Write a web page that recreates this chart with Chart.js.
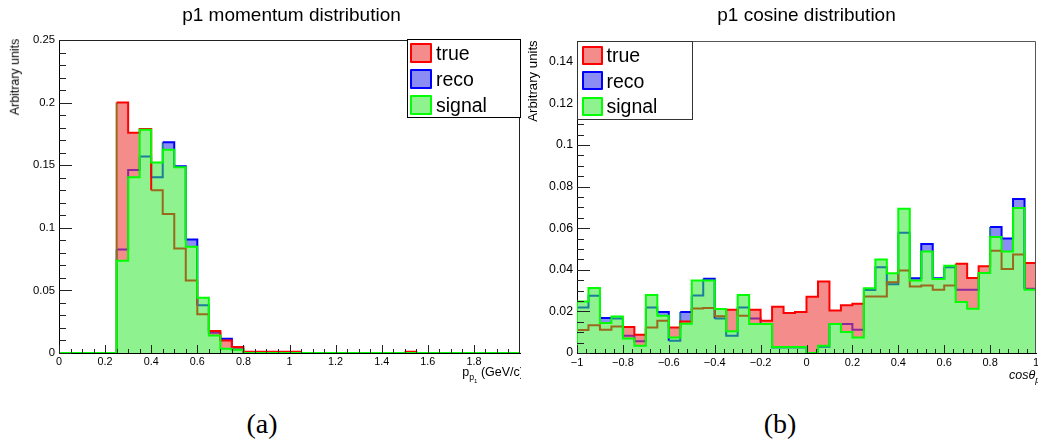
<!DOCTYPE html>
<html><head><meta charset="utf-8">
<script src="https://cdn.jsdelivr.net/npm/chart.js@4/dist/chart.umd.min.js"></script>
<style>
html,body{margin:0;padding:0;background:#fff;}
body{width:1038px;height:445px;position:relative;overflow:hidden;font-family:"Liberation Sans",Arial,Helvetica,sans-serif;color:#000;}
.abs{position:absolute;white-space:nowrap;line-height:1;}
canvas.chart{position:absolute;top:0;}
.legend{position:absolute;border:1px solid #000;background:#fff;box-sizing:border-box;}
.row{position:absolute;display:flex;align-items:center;}
.row span{font-size:19.5px;line-height:20px;}
.sub{font-size:0.7em;position:relative;}
</style>
</head>
<body>
<canvas id="cL" class="chart" width="530" height="395" style="left:0;width:530px;height:395px"></canvas>
<canvas id="cR" class="chart" width="518" height="395" style="left:520px;width:518px;height:395px"></canvas>

<div class="abs" style="left:291.5px;top:5px;font-size:19px;transform:translateX(-50%)">p1 momentum distribution</div>
<div class="abs" style="left:806.5px;top:5px;font-size:19px;transform:translateX(-50%)">p1 cosine distribution</div>

<div class="abs" style="left:15px;top:77px;font-size:12.4px;transform:translate(-50%,-50%) rotate(-90deg)">Arbitrary units</div>
<div class="abs" style="left:533px;top:81px;font-size:13.2px;transform:translate(-50%,-50%) rotate(-90deg)">Arbitrary units</div>

<div class="abs" style="left:430px;top:366px;width:91px;height:28px;overflow:hidden">
  <span style="position:absolute;right:-3px;top:0;font-size:12.5px;line-height:1">p<span class="sub" style="top:4px">p<span class="sub" style="top:3px">1</span></span> (GeV/c)</span>
</div>
<div class="abs" style="left:1009px;top:369px;font-size:12.5px;font-style:italic">cosθ<span class="sub" style="top:4px">p<span class="sub" style="top:3px">1</span></span></div>

<div class="abs" style="left:262px;top:410px;font-size:28px;font-family:'Liberation Serif','DejaVu Serif',serif;transform:translateX(-50%)">(a)</div>
<div class="abs" style="left:780px;top:410px;font-size:28px;font-family:'Liberation Serif','DejaVu Serif',serif;transform:translateX(-50%)">(b)</div>

<div id="legL" class="legend" style="left:407px;top:39px;width:114px;height:79px"></div>
<div id="legR" class="legend" style="left:577px;top:41px;width:116px;height:79px;border-color:#333"></div>

<script>
// ---------------- data ----------------
const seriesNames = ["true", "reco", "signal"];

// momentum histogram: lower bin edges (GeV/c), upper edge of last bin
const momBins = [0,0.05,0.1,0.15,0.2,0.25,0.3,0.35,0.4,0.45,0.5,0.55,0.6,0.65,0.7,0.75,0.8,0.85,0.9,0.95,
                 1,1.05,1.1,1.15,1.2,1.25,1.3,1.35,1.4,1.45,1.5,1.55,1.6,1.65,1.7,1.75,1.8,1.85,1.9,1.95];
const momUpper = 2;
const momTrue   = [0,0,0,0,0, 0.200,0.176,0.179,0.130,0.111, 0.0835,0.058,0.031,0.0175,0.010,
                   0.0047,0.001,0.001,0.001,0.001, 0.001,0,0,0,0, 0,0,0,0,0, 0.001,0,0,0,0, 0,0,0,0,0];
const momReco   = [0,0,0,0,0, 0.0827,0.1462,0.157,0.1404,0.1684, 0.1492,0.0907,0.0381,0.0162,0.0114,
                   0.003,0,0,0,0, 0,0,0,0,0, 0,0,0,0,0, 0,0,0,0,0, 0,0,0,0,0];
const momSignal = [0,0,0,0,0, 0.0736,0.1404,0.1783,0.1521,0.1623, 0.1484,0.0848,0.0442,0.014,0.0034,
                   0.0026,0,0,0,0, 0,0,0,0,0, 0,0,0,0,0, 0,0,0,0,0, 0,0,0,0,0];
const momXTicks = [0,0.2,0.4,0.6,0.8,1,1.2,1.4,1.6,1.8];
const momYTicks = [0,0.05,0.1,0.15,0.2,0.25];

// cosine histogram
const cosBins = [-1,-0.95,-0.9,-0.85,-0.8,-0.75,-0.7,-0.65,-0.6,-0.55,-0.5,-0.45,-0.4,-0.35,-0.3,-0.25,-0.2,-0.15,-0.1,-0.05,
                 0,0.05,0.1,0.15,0.2,0.25,0.3,0.35,0.4,0.45,0.5,0.55,0.6,0.65,0.7,0.75,0.8,0.85,0.9,0.95];
const cosUpper = 1;
const cosTrue   = [0.0110,0.0134,0.0112,0.0128,0.0125,0.0088,0.0123,0.0155,0.0123,0.0152,
                   0.0214,0.0216,0.0177,0.0208,0.0179,0.0208,0.0155,0.0222,0.0192,0.0197,
                   0.0270,0.0344,0.0204,0.0229,0.0237,0.0272,0.0272,0.0340,0.0397,0.0320,
                   0.0325,0.0304,0.0325,0.0429,0.0360,0.0417,0.0492,0.0404,0.0473,0.0433];
const cosReco   = [0.0219,0.0275,0.0168,0.0166,0.0083,0.0056,0.0219,0.0197,0.0059,0.0197,
                   0.0277,0.0357,0.0166,0.0083,0.0219,0.0166,0.0139,0.0027,0.0027,0.0027,
                   0.0000,0.0030,0.0139,0.0139,0.0112,0.0303,0.0412,0.0330,0.0578,0.0359,
                   0.0524,0.0359,0.0412,0.0304,0.0304,0.0385,0.0606,0.0550,0.0740,0.0309];
const cosSignal = [0.0247,0.0312,0.0144,0.0176,0.0070,0.0035,0.0279,0.0179,0.0074,0.0141,
                   0.0349,0.0348,0.0211,0.0104,0.0279,0.0139,0.0139,0.0029,0.0029,0.0029,
                   0.0000,0.0035,0.0139,0.0101,0.0075,0.0311,0.0449,0.0383,0.0694,0.0349,
                   0.0488,0.0356,0.0420,0.0245,0.0213,0.0385,0.0558,0.0488,0.0697,0.0304];
const cosXTicks = [-1,-0.8,-0.6,-0.4,-0.2,0,0.2,0.4,0.6,0.8,1];
const cosYTicks = [0,0.02,0.04,0.06,0.08,0.1,0.12,0.14];

// ---------------- style ----------------
const LINE = {true: "#ff0000", reco: "#0000ff", signal: "#00ff00"};
const FILL = {true: "#f58c8c", reco: "#8c8cf5", signal: "#8ef28e"};
// colour of a lower outline seen through an upper hatched fill
const SEEN = {redUnderGreen: "#9a6a1c", blueUnderGreen: "#1a7f9a", blueUnderRed: "#8a2a9a"};
const DRAW_ORDER = {true: 2, reco: 3, signal: 1}; // reco drawn first, signal on top

function histPoints(bins, upper, vals) {
  const pts = [{x: bins[0], y: 0}];
  bins.forEach((b, i) => pts.push({x: b, y: vals[i]}));
  pts.push({x: upper, y: vals[vals.length - 1]});
  pts.push({x: upper, y: 0});
  return pts;
}

function fmt(v) {
  const s = String(+Math.abs(v).toFixed(4));
  return v < -1e-9 ? "\u2212" + s : s;
}

const inwardTicks = {
  id: "inwardTicks",
  afterDatasetsDraw(chart, args, o) {
    const {ctx, chartArea: a, scales: {x, y}} = chart;
    ctx.save();
    ctx.lineWidth = 1;
    ctx.strokeStyle = o.frameColor;
    ctx.beginPath();
    ctx.moveTo(a.left, Math.round(a.top) + 0.5);
    ctx.lineTo(Math.round(a.right) - 0.5, Math.round(a.top) + 0.5);
    ctx.lineTo(Math.round(a.right) - 0.5, a.bottom);
    ctx.stroke();
    ctx.strokeStyle = o.tickColor;
    ctx.beginPath();
    const nx = Math.round((x.max - x.min) / o.xMinor);
    for (let k = 0; k <= nx; k++) {
      const v = x.min + k * o.xMinor;
      const r = (v - x.min) / o.xMajor;
      const major = Math.abs(r - Math.round(r)) < 1e-6;
      const px = Math.round(x.getPixelForValue(v)) + 0.5;
      if (px < a.left || px > a.right) continue;
      ctx.moveTo(px, a.bottom);
      ctx.lineTo(px, a.bottom - (major ? o.xMajorLen : o.xMinorLen));
    }
    const ny = Math.round((y.max - y.min) / o.yMinor);
    for (let k = 0; k <= ny; k++) {
      const v = y.min + k * o.yMinor;
      const r = (v - y.min) / o.yMajor;
      const major = Math.abs(r - Math.round(r)) < 1e-6;
      const py = Math.round(y.getPixelForValue(v)) + 0.5;
      ctx.moveTo(a.left, py);
      ctx.lineTo(a.left + (major ? o.yMajorLen : o.yMinorLen), py);
    }
    ctx.stroke();
    ctx.restore();
  }
};

function makeChart(id, c) {
  const vals = {true: c.t, reco: c.r, signal: c.s};
  const n = c.bins.length;
  const binOf = j => Math.min(Math.max(j - 1, 0), n - 1);
  const segColor = {
    true: ctx => { const i = binOf(ctx.p0DataIndex);
      return c.t[i] <= c.s[i] ? SEEN.redUnderGreen : LINE.true; },
    reco: ctx => { const i = binOf(ctx.p0DataIndex);
      if (c.r[i] <= c.s[i]) return SEEN.blueUnderGreen;
      if (c.r[i] <= c.t[i]) return SEEN.blueUnderRed;
      return LINE.reco; },
    signal: () => LINE.signal
  };
  const sets = seriesNames.map(name => ({
    label: name,
    data: histPoints(c.bins, c.upper, vals[name]),
    stepped: "before",
    borderColor: LINE[name],
    borderWidth: 2,
    backgroundColor: FILL[name],
    fill: "origin",
    pointRadius: 0,
    order: DRAW_ORDER[name],
    segment: {borderColor: segColor[name]}
  }));
  return new Chart(document.getElementById(id), {
    type: "line",
    data: {datasets: sets},
    options: {
      responsive: false, animation: false, devicePixelRatio: 1,
      layout: {padding: {top: c.top, right: c.right, left: 0, bottom: 0}},
      plugins: {
        legend: {display: false}, tooltip: {enabled: false},
        filler: {drawTime: "beforeDatasetsDraw"},
        inwardTicks: c.ticks
      },
      scales: {
        x: {
          type: "linear", min: c.xmin, max: c.xmax,
          afterFit(s) { s.height = c.xh; s.paddingLeft = 0; s.paddingRight = 0; },
          afterBuildTicks(s) { s.ticks = c.xTicks.map(v => ({value: v})); },
          ticks: {callback: fmt, autoSkip: false, maxRotation: 0, padding: 3, color: "#000",
                  font: {family: "'Liberation Sans', Arial, sans-serif", size: c.xFont}},
          grid: {display: true, drawOnChartArea: false, drawTicks: false},
          border: {display: true, color: "#000", width: 1}
        },
        y: {
          type: "linear", min: 0, max: c.ymax,
          afterFit(s) { s.width = c.yw; s.paddingTop = 0; s.paddingBottom = 0; },
          afterBuildTicks(s) { s.ticks = c.yTicks.map(v => ({value: v})); },
          ticks: {callback: fmt, autoSkip: false, padding: 4, color: "#000",
                  font: {family: "'Liberation Sans', Arial, sans-serif", size: c.yFont}},
          grid: {display: true, drawOnChartArea: false, drawTicks: false},
          border: {display: true, color: "#000", width: 1}
        }
      }
    },
    plugins: [inwardTicks]
  });
}

makeChart("cL", {
  bins: momBins, upper: momUpper, t: momTrue, r: momReco, s: momSignal,
  xmin: 0, xmax: 2, ymax: 0.25, xTicks: momXTicks, yTicks: momYTicks,
  top: 40, right: 10, xh: 42, yw: 59, xFont: 10.8, yFont: 11.3,
  ticks: {xMajor: 0.2, xMinor: 0.05, yMajor: 0.05, yMinor: 0.01,
          xMajorLen: 8, xMinorLen: 4, yMajorLen: 13, yMinorLen: 7,
          tickColor: "#222", frameColor: "#222"}
});
makeChart("cR", {
  bins: cosBins, upper: cosUpper, t: cosTrue, r: cosReco, s: cosSignal,
  xmin: -1, xmax: 1, ymax: 0.15, xTicks: cosXTicks, yTicks: cosYTicks,
  top: 41, right: 2, xh: 42, yw: 57, xFont: 11, yFont: 12.3,
  ticks: {xMajor: 0.2, xMinor: 0.04, yMajor: 0.02, yMinor: 0.005,
          xMajorLen: 8, xMinorLen: 4, yMajorLen: 13, yMinorLen: 7,
          tickColor: "#222", frameColor: "#555"}
});

// legends (ROOT style boxes)
function buildLegend(id, rowTops, swX, swW, swH, textX) {
  const box = document.getElementById(id);
  seriesNames.forEach((name, i) => {
    const row = document.createElement("div");
    row.className = "row";
    row.style.left = swX + "px"; row.style.top = rowTops[i] + "px"; row.style.height = swH + "px";
    const sw = document.createElement("div");
    sw.style.cssText = "box-sizing:border-box;width:" + swW + "px;height:" + swH +
      "px;background:" + FILL[name] + ";border:2px solid " + LINE[name] + ";border-radius:1px";
    row.appendChild(sw);
    const t = document.createElement("span");
    t.textContent = name; t.style.marginLeft = (textX - swX - swW) + "px";
    row.appendChild(t);
    box.appendChild(row);
  });
}
buildLegend("legL", [2.5, 28.8, 55.2], 2, 22, 20, 28);
buildLegend("legR", [3.5, 29, 54.5], 3.5, 21, 19, 28.5);
</script>
</body></html>
